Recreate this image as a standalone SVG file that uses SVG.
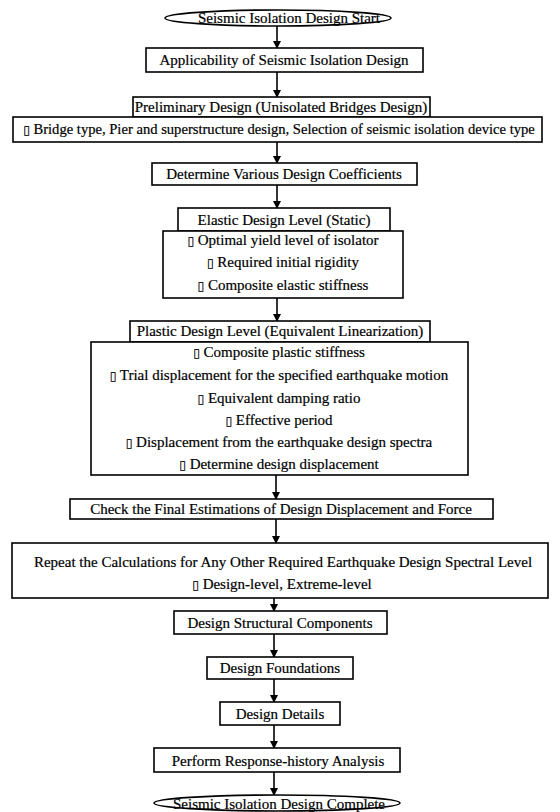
<svg xmlns="http://www.w3.org/2000/svg" width="560" height="812" viewBox="0 0 560 812">
<defs>
<marker id="ah" markerWidth="8" markerHeight="10" refX="7" refY="4" orient="auto" markerUnits="userSpaceOnUse">
<path d="M0,0 L8,4 L0,8 Z" fill="#000"/>
</marker>
<style>
.n rect,.n ellipse{fill:#fff;stroke:#000;stroke-width:1.6}
text{font-family:"Liberation Serif","Times New Roman",serif;font-size:15px;fill:#000;stroke:#000;stroke-width:0.2;text-anchor:middle}
.b{font-family:"DejaVu Sans",sans-serif;font-size:12px;font-weight:bold}
.s{font-size:14.6px}
.c line{stroke:#000;stroke-width:1.6;marker-end:url(#ah)}
</style>
</defs>
<rect width="560" height="812" fill="#fff"/>
<g class="c" id="connectors">
<line x1="277" y1="26" x2="277" y2="48"/>
<line x1="277" y1="72" x2="277" y2="97"/>
<line x1="277" y1="142" x2="277" y2="163"/>
<line x1="277" y1="185" x2="277" y2="208"/>
<line x1="277" y1="298" x2="277" y2="321"/>
<line x1="276" y1="475" x2="276" y2="499"/>
<line x1="276" y1="519" x2="276" y2="543"/>
<line x1="274" y1="598" x2="274" y2="611"/>
<line x1="274" y1="634" x2="274" y2="657"/>
<line x1="274" y1="679" x2="274" y2="702"/>
<line x1="274" y1="725" x2="274" y2="748"/>
<line x1="274" y1="772" x2="274" y2="795"/>
</g>
<g class="n" id="start"><ellipse cx="278" cy="18" rx="113" ry="8"/><text x="289" y="23">Seismic Isolation Design Start</text></g>
<g class="n" id="applicability"><rect x="146" y="48" width="277" height="24"/><text x="284" y="65">Applicability of Seismic Isolation Design</text></g>
<g class="n" id="preliminary"><rect x="133" y="97" width="297" height="20"/><text x="281" y="112">Preliminary Design (Unisolated Bridges Design)</text></g>
<g class="n" id="bridge"><rect x="13" y="117" width="529" height="25"/><text class="s" x="279" y="134"><tspan class="b">▯</tspan> Bridge type, Pier and superstructure design, Selection of seismic isolation device type</text></g>
<g class="n" id="coefficients"><rect x="152" y="163" width="265" height="22"/><text x="284" y="179">Determine Various Design Coefficients</text></g>
<g class="n" id="elastic-head"><rect x="178" y="208" width="212" height="23"/><text x="284" y="225">Elastic Design Level (Static)</text></g>
<g class="n" id="elastic-body"><rect x="163" y="231" width="240" height="67"/>
<text x="283" y="245"><tspan class="b">▯</tspan> Optimal yield level of isolator</text>
<text x="283" y="267"><tspan class="b">▯</tspan> Required initial rigidity</text>
<text x="283" y="290"><tspan class="b">▯</tspan> Composite elastic stiffness</text></g>
<g class="n" id="plastic-head"><rect x="130" y="321" width="300" height="21"/><text x="280" y="336">Plastic Design Level (Equivalent Linearization)</text></g>
<g class="n" id="plastic-body"><rect x="91" y="342" width="377" height="133"/>
<text x="279" y="357"><tspan class="b">▯</tspan> Composite plastic stiffness</text>
<text x="279" y="380"><tspan class="b">▯</tspan> Trial displacement for the specified earthquake motion</text>
<text x="279" y="403"><tspan class="b">▯</tspan> Equivalent damping ratio</text>
<text x="279" y="425"><tspan class="b">▯</tspan> Effective period</text>
<text x="279" y="447"><tspan class="b">▯</tspan> Displacement from the earthquake design spectra</text>
<text x="279" y="469"><tspan class="b">▯</tspan> Determine design displacement</text></g>
<g class="n" id="check"><rect x="70" y="499" width="423" height="20"/><text x="281" y="514">Check the Final Estimations of Design Displacement and Force</text></g>
<g class="n" id="repeat"><rect x="12" y="543" width="536" height="55"/>
<text x="283" y="567">Repeat the Calculations for Any Other Required Earthquake Design Spectral Level</text>
<text x="282" y="589"><tspan class="b">▯</tspan> Design-level, Extreme-level</text></g>
<g class="n" id="structural"><rect x="174" y="611" width="213" height="23"/><text x="280" y="628">Design Structural Components</text></g>
<g class="n" id="foundations"><rect x="207" y="657" width="146" height="22"/><text x="280" y="673">Design Foundations</text></g>
<g class="n" id="details"><rect x="220" y="702" width="120" height="23"/><text x="280" y="719">Design Details</text></g>
<g class="n" id="response"><rect x="154" y="748" width="246" height="24"/><text x="278" y="766">Perform Response-history Analysis</text></g>
<g class="n" id="end"><ellipse cx="277" cy="803" rx="123" ry="8"/><text x="279" y="809">Seismic Isolation Design Complete</text></g>
</svg>
